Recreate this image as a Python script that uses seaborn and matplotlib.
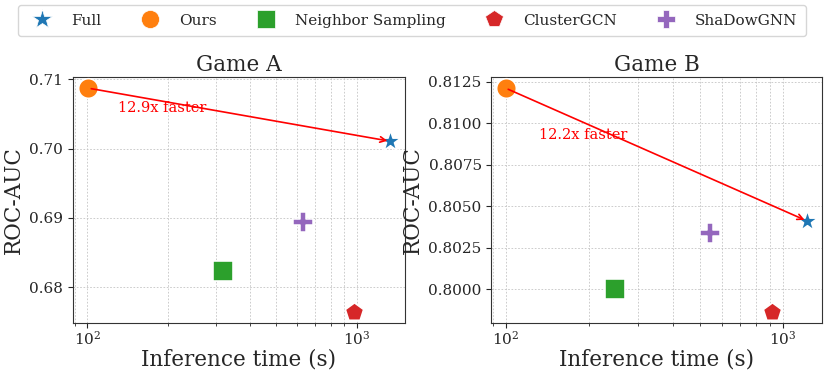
import numpy as np
import pandas as pd
import matplotlib
matplotlib.use("Agg")
import matplotlib.pyplot as plt
from matplotlib.lines import Line2D
import seaborn as sns

methods = ["Full", "Ours", "Neighbor Sampling", "ClusterGCN", "ShaDowGNN"]
colors = ["#1f77b4", "#ff7f0e", "#2ca02c", "#d62728", "#9467bd"]
marker_list = ["*", "o", "s", "p", "P"]

games = ["Game A", "Game B"]
time_a = [1330, 101, 318, 980, 630]
auc_a = [0.70105, 0.7087, 0.6824, 0.6765, 0.68942]
time_b = [1220, 100, 247, 908, 544]
auc_b = [0.80411, 0.8121, 0.8000, 0.79865, 0.80341]
speedup_labels = ["12.9x faster", "12.2x faster"]
label_pos = [(130, 0.70586), (132, 0.80929)]
ylims = [(0.67489, 0.71038), (0.79799, 0.8128)]
xlims = [(88.5, 1511), (88.8, 1377)]
yticks = [[0.68, 0.69, 0.70, 0.71], [0.8000, 0.8025, 0.8050, 0.8075, 0.8100, 0.8125]]
ytick_fmt = ["{:.2f}", "{:.4f}"]

sns.set_style("ticks")
plt.rcParams["font.family"] = ["DejaVu Serif"]
plt.rcParams["mathtext.fontset"] = "dejavuserif"

fig = plt.figure(figsize=(8.3, 3.77), dpi=100)
ax1 = fig.add_axes([0.088, 0.144, 0.400, 0.653])
ax2 = fig.add_axes([0.592, 0.144, 0.398, 0.653])
axes = [ax1, ax2]

sizes = {"*": 260, "o": 200, "s": 210, "p": 190, "P": 190}

for i, (ax, t, a) in enumerate(zip(axes, [time_a, time_b], [auc_a, auc_b])):
    for m, c, mk, tx, ay in zip(methods, colors, marker_list, t, a):
        sns.scatterplot(x=[tx], y=[ay], color=c, marker=mk, s=sizes[mk],
                        ax=ax, legend=False, zorder=3)
    ax.set_xscale("log")
    ax.set_xlim(*xlims[i])
    ax.set_ylim(*ylims[i])
    ax.set_yticks(yticks[i])
    ax.set_yticklabels([ytick_fmt[i].format(v) for v in yticks[i]])
    ax.grid(True, which="major", linestyle=(0, (2, 2)), color="#c4c4c4", linewidth=0.6)
    ax.grid(True, which="minor", axis="x", linestyle=(0, (2, 2)), color="#c4c4c4", linewidth=0.6)
    ax.tick_params(axis="both", which="major", labelsize=11, length=3.5)
    ax.tick_params(axis="x", which="major", pad=1.5)
    ax.tick_params(axis="x", which="minor", length=2)
    ax.set_title(games[i], fontsize=15.5, pad=4)
    ax.set_xlabel("Inference time (s)", fontsize=15.5, labelpad=1)
    ax.set_ylabel("ROC-AUC", fontsize=15.5, labelpad=3)
    for sp in ax.spines.values():
        sp.set_color("#333333")
    ax.annotate("", xy=(t[0], a[0]), xytext=(t[1], a[1]),
                arrowprops=dict(arrowstyle="->", color="red", lw=1.2), zorder=4)
    ax.text(label_pos[i][0], label_pos[i][1], speedup_labels[i], color="red",
            fontsize=10.5, va="center", ha="left")

leg_sizes = {"*": 15, "o": 13, "s": 13, "p": 13, "P": 13}
handles = [Line2D([], [], linestyle="none", marker=mk, color=c,
                  markersize=leg_sizes[mk], markeredgecolor="white", markeredgewidth=0.5)
           for c, mk in zip(colors, marker_list)]
fig.legend(handles, methods, loc="center", bbox_to_anchor=(0.4965, 0.9456), ncol=5,
           fontsize=11, frameon=True, fancybox=True, columnspacing=2.2,
           handletextpad=0.9, borderpad=0.55)

fig.savefig("out.png", dpi=100)
